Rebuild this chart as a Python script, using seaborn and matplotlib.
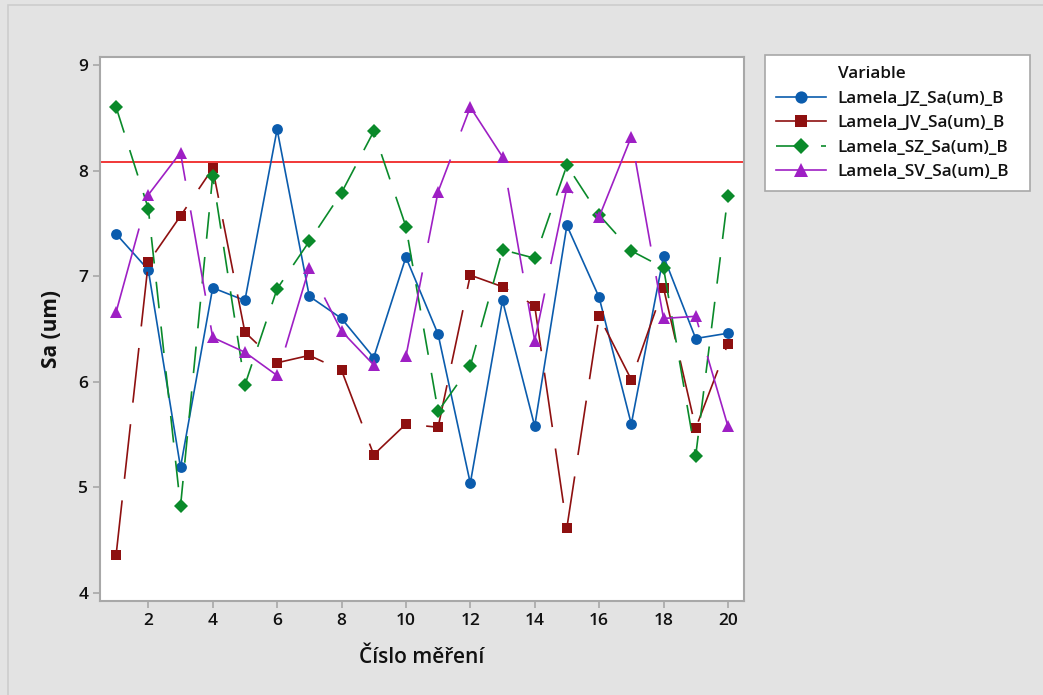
import seaborn as sns
import matplotlib.pyplot as plt
import pandas as pd
from matplotlib.lines import Line2D
from matplotlib.patches import Rectangle


mereni = list(range(1, 21))
jz = [7.40, 7.06, 5.19, 6.89, 6.77, 8.39, 6.81, 6.60, 6.23, 7.18,
      6.45, 5.04, 6.77, 5.58, 7.48, 6.80, 5.60, 7.19, 6.41, 6.46]
jv = [4.36, 7.13, 7.57, 8.02, 6.47, 6.18, 6.25, 6.11, 5.31, 5.60,
      5.57, 7.01, 6.90, 6.72, 4.62, 6.62, 6.02, 6.89, 5.56, 6.36]
sz = [8.60, 7.64, 4.82, 7.95, 5.97, 6.88, 7.33, 7.79, 8.37, 7.47,
      5.72, 6.15, 7.25, 7.17, 8.05, 7.58, 7.24, 7.08, 5.30, 7.76]
sv = [6.66, 7.77, 8.17, 6.42, 6.28, 6.06, 7.08, 6.48, 6.16, 6.24,
      7.80, 8.60, 8.13, 6.39, 7.84, 7.56, 8.32, 6.60, 6.62, 5.58]
limit = 8.08

names = ['Lamela_JZ_Sa(um)_B', 'Lamela_JV_Sa(um)_B',
         'Lamela_SZ_Sa(um)_B', 'Lamela_SV_Sa(um)_B']

df = pd.DataFrame({'Měření': mereni, names[0]: jz, names[1]: jv,
                   names[2]: sz, names[3]: sv})
df_long = df.melt(id_vars='Měření', var_name='Variable', value_name='Sa')

colors = {names[0]: '#0B5CAD', names[1]: '#8E1010',
          names[2]: '#0A8A2A', names[3]: '#9E1FC4'}
markers = {names[0]: 'o', names[1]: 's', names[2]: 'D', names[3]: '^'}
dashes = {names[0]: '', names[1]: (33, 13), names[2]: (16, 11), names[3]: (52, 18)}
msizes = {names[0]: 7.8, names[1]: 7.6, names[2]: 7.2, names[3]: 8.8}

plt.rcParams['font.family'] = ['Open Sans', 'DejaVu Sans']

fig = plt.figure(figsize=(10.43, 6.95), dpi=100, facecolor='#E3E3E3')
fig.patches.append(Rectangle((8 / 1043, -0.1), 1.2, 1 - 5 / 695 + 0.1,
                             transform=fig.transFigure, facecolor='none',
                             edgecolor='#CDCDCD', lw=1.2))
ax = fig.add_axes([100 / 1043, 1 - 601 / 695, 644 / 1043, 544 / 695])

sns.lineplot(data=df_long, x='Měření', y='Sa', hue='Variable', style='Variable',
             palette=colors, markers=markers, dashes=dashes, lw=1.2,
             markersize=7, markeredgewidth=0, legend=False, ax=ax)
for line, n in zip(ax.get_lines(), names):
    line.set_markersize(msizes[n])

ax.axhline(limit, color='#F02828', lw=1.3, zorder=1)

ax.set_xlim(0.5, 20.5)
ax.set_ylim(3.925, 9.075)
ax.set_xticks(range(2, 21, 2))
ax.set_yticks(range(4, 10))
ax.set_facecolor('white')
for s in ax.spines.values():
    s.set_color('#A8A8A8')
    s.set_linewidth(1.5)
ax.tick_params(axis='both', colors='#A8A8A8', labelcolor='#111111',
               labelsize=12.5, length=5, width=1.2, direction='out')
for t in ax.get_xticklabels() + ax.get_yticklabels():
    t.set_fontweight('semibold')
ax.set_xlabel('Číslo měření', fontsize=15, fontweight='semibold', color='#111111', labelpad=13)
ax.set_ylabel('Sa (um)', fontsize=15, fontweight='bold', color='#111111', labelpad=12)

handles = [Line2D([], [], linestyle='none', marker='none')]
labels = ['Variable']
for n in names:
    ls = (0, dashes[n]) if n == names[2] else '-'
    handles.append(Line2D([], [], color=colors[n], marker=markers[n], lw=1.2,
                          markersize=msizes[n] + 1, markeredgewidth=0,
                          linestyle=ls))
    labels.append(n)
leg = fig.legend(handles, labels, loc='upper left',
                 bbox_to_anchor=(765 / 1043, 1 - 187 / 695, 265 / 1043, 132 / 695),
                 mode='expand', borderaxespad=0,
                 fontsize=12.3, handlelength=2.9, handletextpad=0.7,
                 labelspacing=0.5, fancybox=False, framealpha=1,
                 edgecolor='#A8A8A8', borderpad=0.65)
leg.get_frame().set_linewidth(1.2)
for t in leg.get_texts():
    t.set_color('#111111')
    t.set_fontweight('semibold')

fig.savefig('out.png', dpi=100, facecolor=fig.get_facecolor())
